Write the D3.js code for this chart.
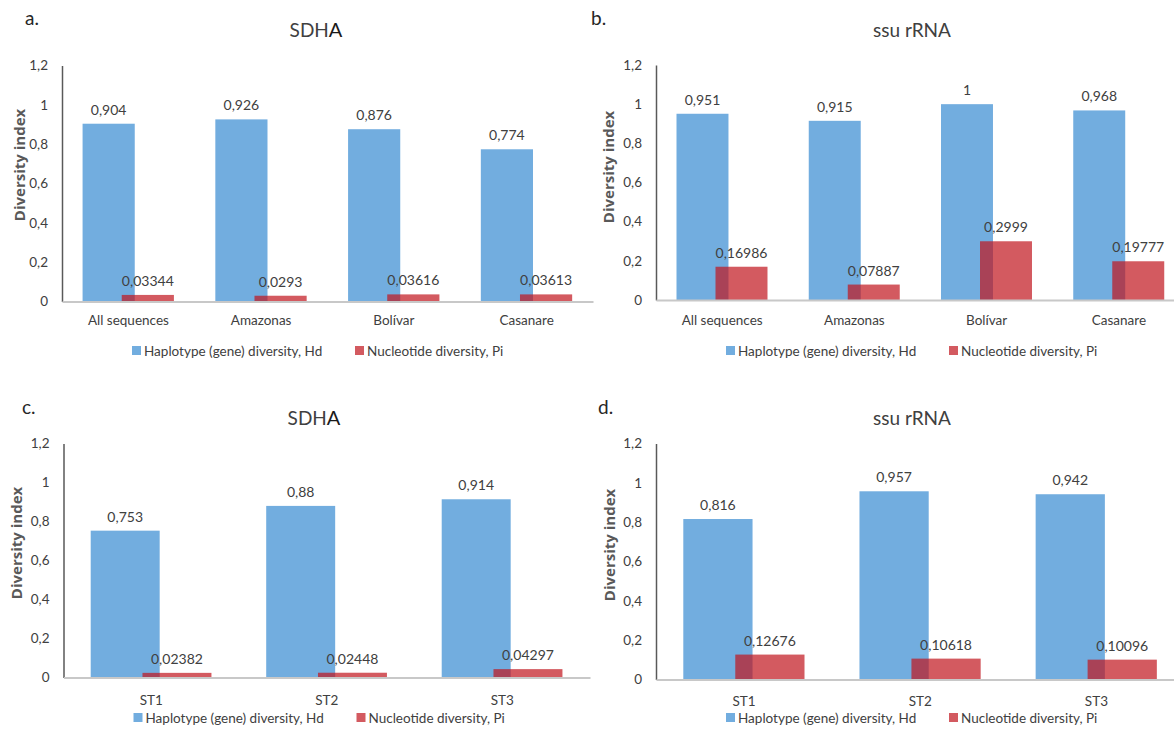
<!DOCTYPE html>
<html>
<head>
<meta charset="utf-8">
<script src="https://cdn.jsdelivr.net/npm/d3@7"></script>
<style>
  body { margin: 0; background: #fff; }
  svg { font-family: Lato, "Open Sans", sans-serif; }
</style>
</head>
<body>
<div id="chart"></div>
<script>
// categories
const regions = ["All sequences", "Amazonas", "Bolívar", "Casanare"];
const subtypes = ["ST1", "ST2", "ST3"];

// series values (Hd = haplotype diversity, Pi = nucleotide diversity)
const sdhaRegionHd = [0.904, 0.926, 0.876, 0.774];
const sdhaRegionPi = [0.03344, 0.0293, 0.03616, 0.03613];
const ssuRegionHd = [0.951, 0.915, 1, 0.968];
const ssuRegionPi = [0.16986, 0.07887, 0.2999, 0.19777];
const sdhaStHd = [0.753, 0.88, 0.914];
const sdhaStPi = [0.02382, 0.02448, 0.04297];
const ssuStHd = [0.816, 0.957, 0.942];
const ssuStPi = [0.12676, 0.10618, 0.10096];

const yTicks = [0, 0.2, 0.4, 0.6, 0.8, 1, 1.2];
const seriesNames = ["Haplotype (gene) diversity, Hd", "Nucleotide diversity, Pi"];
const yTitle = "Diversity index";

const w = 1174, h = 739;
const blue = "#72addf";
const red = "rgb(192,20,28)";
const comma = (v) => String(v).replace(".", ",");

const svg = d3.select("#chart")
  .append("svg")
  .attr("width", w)
  .attr("height", h);

const panels = [
  { letter: "a.", title: ["SDH", "A"], cats: regions, hd: sdhaRegionHd, pi: sdhaRegionPi,
    x0: 62, x1: 593, y0: 301.5, y1: 65.5, lx: 25, ly: 25, tx: 316, ty: 37,
    yTitleX: 20, yTitleY: 165, catY: 320, legY: 351 },
  { letter: "b.", title: ["ssu rRNA"], cats: regions, hd: ssuRegionHd, pi: ssuRegionPi,
    x0: 656, x1: 1185, y0: 300, y1: 65, lx: 591, ly: 25, tx: 912, ty: 37,
    yTitleX: 609, yTitleY: 167, catY: 320, legY: 351 },
  { letter: "c.", title: ["SDH", "A"], cats: subtypes, hd: sdhaStHd, pi: sdhaStPi,
    x0: 63.5, x1: 590, y0: 677.5, y1: 443.5, lx: 22, ly: 414, tx: 314, ty: 425,
    yTitleX: 17, yTitleY: 543, catY: 700, legY: 718 },
  { letter: "d.", title: ["ssu rRNA"], cats: subtypes, hd: ssuStHd, pi: ssuStPi,
    x0: 656, x1: 1184.5, y0: 679.5, y1: 443.5, lx: 598, ly: 414, tx: 912, ty: 425,
    yTitleX: 610, yTitleY: 545, catY: 701, legY: 718 }
];

panels.forEach((p) => {
  const g = svg.append("g");

  const x = d3.scaleBand().domain(p.cats).range([p.x0, p.x1]).padding(0);
  const y = d3.scaleLinear().domain([0, 1.2]).range([p.y0, p.y1]);
  const bw = x.bandwidth();
  const barW = bw * 0.393;
  const groupW = bw * 0.69;
  const redOff = bw * 0.295;
  const bx = (c) => x(c) + bw / 2 - groupW / 2;

  // panel letter + title
  g.append("text")
    .attr("x", p.lx).attr("y", p.ly)
    .attr("font-size", 19).attr("fill", "#262626")
    .text(p.letter);

  const t = g.append("text")
    .attr("x", p.tx).attr("y", p.ty)
    .attr("text-anchor", "middle")
    .attr("font-size", 19).attr("fill", "#404040");
  t.append("tspan").text(p.title[0]);
  if (p.title[1]) t.append("tspan").attr("font-size", 20).attr("fill", "#1a1a1a").text(p.title[1]);

  // y axis
  const yAxis = d3.axisLeft(y)
    .tickValues(yTicks)
    .tickSize(0)
    .tickSizeOuter(0)
    .tickPadding(14)
    .tickFormat(comma);

  const ya = g.append("g")
    .attr("transform", "translate(" + p.x0 + ",0)")
    .call(yAxis);
  ya.select(".domain").attr("stroke", "#595959").attr("stroke-width", 1.5);
  ya.selectAll("text").attr("font-size", 13.5).attr("fill", "#404040").attr("font-family", "Lato, sans-serif");

  g.append("text")
    .attr("transform", "translate(" + (p.yTitleX + 5) + "," + p.yTitleY + ") rotate(-90)")
    .attr("text-anchor", "middle")
    .attr("font-family", "'Open Sans', sans-serif")
    .attr("font-size", 15)
    .attr("font-weight", "bold")
    .attr("fill", "#595959")
    .text(yTitle);

  // bars: blue first, translucent red on top
  g.selectAll("rect.hd")
    .data(p.cats)
    .enter()
    .append("rect")
    .attr("class", "hd")
    .attr("x", (c) => bx(c))
    .attr("y", (c, i) => y(p.hd[i]))
    .attr("width", barW)
    .attr("height", (c, i) => y(0) - y(p.hd[i]))
    .attr("fill", blue);

  g.selectAll("rect.pi")
    .data(p.cats)
    .enter()
    .append("rect")
    .attr("class", "pi")
    .attr("x", (c) => bx(c) + redOff)
    .attr("y", (c, i) => y(p.pi[i]))
    .attr("width", barW)
    .attr("height", (c, i) => y(0) - y(p.pi[i]))
    .attr("fill", red)
    .attr("fill-opacity", 0.7);

  // x axis (baseline)
  const xAxis = d3.axisBottom(x).tickSize(0).tickSizeOuter(0).tickPadding(p.catY - p.y0 - 5);
  const xa = g.append("g")
    .attr("transform", "translate(0," + p.y0 + ")")
    .call(xAxis);
  xa.select(".domain").attr("stroke", "#c8c8c8").attr("stroke-width", 2);
  xa.selectAll("text").attr("font-size", 13.5).attr("fill", "#404040").attr("font-family", "Lato, sans-serif");

  // value labels
  g.selectAll("text.hdl")
    .data(p.cats)
    .enter()
    .append("text")
    .attr("class", "hdl")
    .attr("x", (c) => bx(c) + barW / 2)
    .attr("y", (c, i) => y(p.hd[i]) - 9)
    .attr("text-anchor", "middle")
    .attr("font-size", 14)
    .attr("fill", "#404040")
    .text((c, i) => comma(p.hd[i]));

  g.selectAll("text.pil")
    .data(p.cats)
    .enter()
    .append("text")
    .attr("class", "pil")
    .attr("x", (c) => bx(c) + redOff + barW / 2)
    .attr("y", (c, i) => y(p.pi[i]) - 9)
    .attr("text-anchor", "middle")
    .attr("font-size", 14)
    .attr("fill", "#404040")
    .text((c, i) => comma(p.pi[i]));

  // legend
  const legX = [p.x0 + 70, p.x0 + 293];
  const legColors = [blue, "rgb(211,90,96)"];
  seriesNames.forEach((s, i) => {
    g.append("rect")
      .attr("x", legX[i]).attr("y", p.legY - 5)
      .attr("width", 9).attr("height", 9)
      .attr("fill", legColors[i]);
    g.append("text")
      .attr("x", legX[i] + 12).attr("y", p.legY + 4.5)
      .attr("font-size", 13.5)
      .attr("fill", "#404040")
      .text(s);
  });
});
</script>
</body>
</html>
